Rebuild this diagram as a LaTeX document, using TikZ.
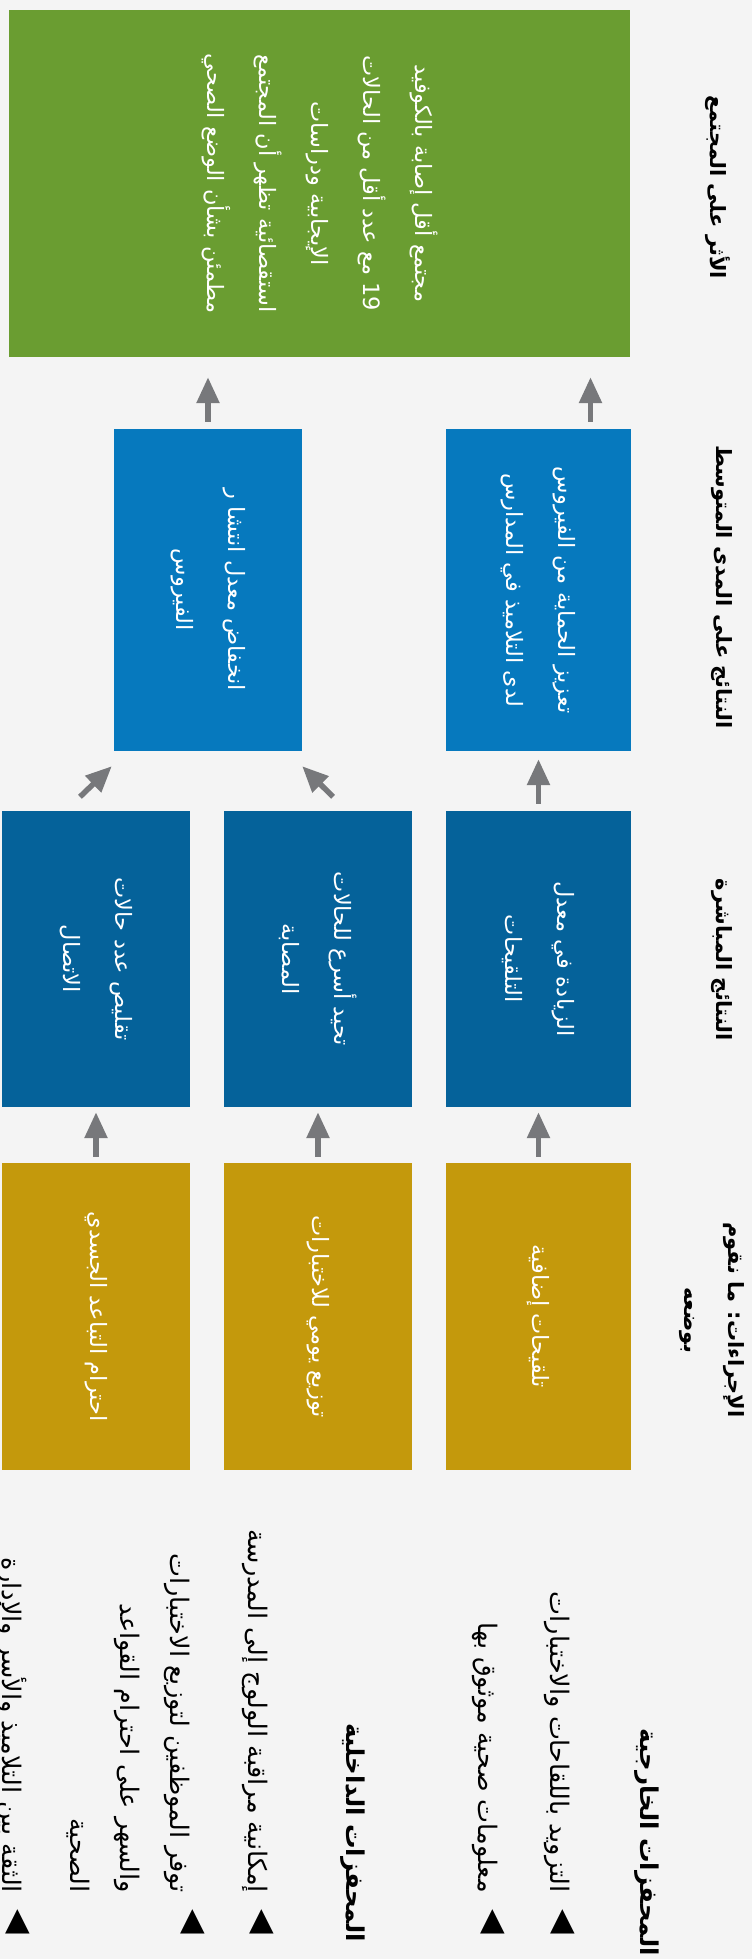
\documentclass[tikz,border=0pt]{standalone}
\usepackage{fontspec}
\usepackage{tikz}
\usetikzlibrary{arrows.meta, calc, positioning}
\newfontfamily\arabicfont[Script=Arabic]{DejaVu Sans}
\newfontfamily\symfont{DejaVu Sans}
\TeXXeTstate=1
\newcommand{\artxt}[1]{\beginR #1\endR}

\definecolor{bgcol}{HTML}{F4F4F4}
\definecolor{impgreen}{HTML}{6A9D31}
\definecolor{midblue}{HTML}{0679BE}
\definecolor{dirblue}{HTML}{05629A}
\definecolor{actgold}{HTML}{C4990C}
\definecolor{arrgray}{HTML}{77787B}

\begin{document}
\begin{tikzpicture}[x=1pt, y=-1pt,
    box/.style={rotate=-90, inner sep=0pt, text=white, align=center,
        font=\arabicfont\fontsize{22.5}{52}\selectfont},
    ttl/.style={rotate=-90, inner sep=0pt, align=center,
        font=\arabicfont\bfseries\fontsize{21}{44}\selectfont},
    lst/.style={rotate=-90, inner sep=0pt, align=right, anchor=east,
        font=\arabicfont\fontsize{25.5}{50}\selectfont},
    hdr/.style={lst, font=\arabicfont\bfseries\fontsize{24.5}{50}\selectfont},
    bul/.style={rotate=-90, inner sep=0pt, font=\symfont\fontsize{32}{32}\selectfont},
    arr/.style={arrgray, line width=5.5pt, -{Triangle[length=26pt, width=22pt]}}]

    % page and background
    \useasboundingbox (0,0) rectangle (752,1959);
    \fill[bgcol] (0,0) rectangle (752,1959);

    % column titles
    \node[ttl] (tImp) at (718,187) {\artxt{الأثر على المجتمع}};
    \node[ttl] (tMid) at (722,587) {\artxt{النتائج على المدى المتوسط}};
    \node[ttl] (tDir) at (722,960) {\artxt{النتائج المباشرة}};
    \node[ttl] (tAct) at (712,1320) {\artxt{الإجراءات: ما نقوم}\\\artxt{بوضعه}};

    % impact
    \node[box, fill=impgreen, minimum width=347, minimum height=621] (imp) at (319.5,183.5)
        {\artxt{مجتمع أقل إصابة بالكوفيد}\\
         \artxt{\beginL 19\endL{} مع عدد أقل من الحالات}\\
         \artxt{الإيجابية ودراسات}\\
         \artxt{استقصائية تظهر أن المجتمع}\\
         \artxt{مطمئن بشأن الوضع الصحي}};

    % medium term results
    \node[box, fill=midblue, minimum width=322, minimum height=185] (bm1) at (538.5,590)
        {\artxt{تعزيز الحماية من الفيروس}\\\artxt{لدى التلاميذ في المدارس}};
    \node[box, fill=midblue, minimum width=322, minimum height=188] (bm2) at (208,590)
        {\artxt{انخفاض معدل انتشا ر}\\\artxt{الفيروس}};

    % direct results
    \node[box, fill=dirblue, minimum width=296, minimum height=185] (dk1) at (538.5,959)
        {\artxt{الزيادة في معدل}\\\artxt{التلقيحات}};
    \node[box, fill=dirblue, minimum width=296, minimum height=188] (dk2) at (318,959)
        {\artxt{تحيد أسرع للحالات}\\\artxt{المصابة}};
    \node[box, fill=dirblue, minimum width=296, minimum height=188] (dk3) at (96,959)
        {\artxt{تقليص عدد حالات}\\\artxt{الاتصال}};

    % actions
    \node[box, fill=actgold, minimum width=307, minimum height=185] (ac1) at (538.5,1316.5)
        {\artxt{تلقيحات إضافية}};
    \node[box, fill=actgold, minimum width=307, minimum height=188] (ac2) at (318,1316.5)
        {\artxt{توزيع يومي للاختبارات}};
    \node[box, fill=actgold, minimum width=307, minimum height=188] (ac3) at (96,1316.5)
        {\artxt{احترام التباعد الجسدي}};

    % enablers
    \node[hdr] (h1) at (647,1956) {\artxt{المحفزات الخارجية}};
    \node[lst] (e1) at (557,1893) {\artxt{التزويد باللقاحات والاختبارات}};
    \node[lst] (e2) at (485,1893) {\artxt{معلومات صحية موثوق بها}};
    \node[hdr] (h2) at (353,1942) {\artxt{المحفزات الداخلية}};
    \node[lst] (i1) at (255,1893) {\artxt{إمكانية مراقبة الولوج إلى المدرسة}};
    \node[lst] (i2) at (128,1893) {\artxt{توفر الموظفين لتوزيع الاختبارات}\\
        \artxt{والسهر على احترام القواعد}\\\artxt{الصحية}};
    \node[lst] (i3) at (12,1893) {\artxt{الثقة بين التلاميذ والأسر والإدارة}};

    \node[bul] (b1) at ($(e1.east)+(6,29)$) {◀};
    \node[bul] (b2) at ($(e2.east)+(8,29)$) {◀};
    \node[bul] (b3) at ($(i1.east)+(7,29)$) {◀};
    \node[bul] (b4) at ($(i2.east)+(65,29)$) {◀};
    \node[bul] (b5) at ($(i3.east)+(6,29)$) {◀};

    % arrows
    \foreach \i in {1,2,3} {
        \draw[arr, shorten <=6pt, shorten >=5pt] (ac\i.west) -- (dk\i.east);
    }
    \draw[arr, shorten <=7pt, shorten >=8pt] (dk1.west) -- (bm1.east);
    \draw[arr] ($(dk2.west)+(15,-14)$) -- ($(bm2.north east)+(0,15)$);
    \draw[arr] ($(dk3.west)+(-16,-14)$) -- ($(bm2.south east)+(-2,15)$);
    \coordinate (p8) at ($(bm1.west)+(52,0)$);
    \draw[arr, shorten <=7pt, shorten >=20pt] (bm2.west) -- (bm2.west |- imp.east);
    \draw[arr, shorten <=7pt, shorten >=20pt] (p8) -- (p8 |- imp.east);
\end{tikzpicture}
\end{document}
